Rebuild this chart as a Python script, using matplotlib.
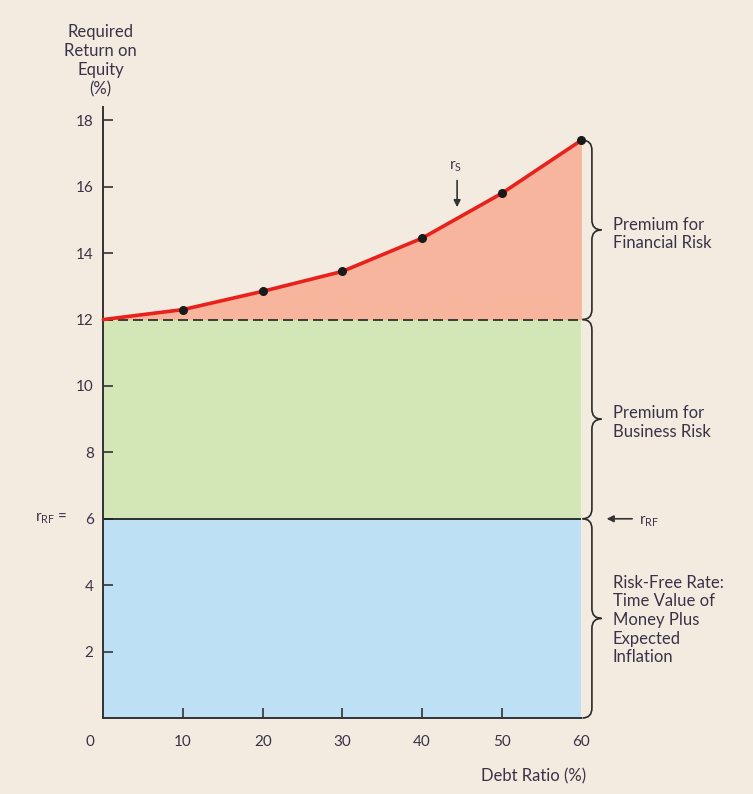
import numpy as np
import matplotlib.pyplot as plt
from matplotlib.path import Path
from matplotlib.patches import PathPatch
import matplotlib.transforms as mtransforms

plt.rcParams['font.family'] = ['Lato', 'DejaVu Sans']

debt_ratio = [0, 10, 20, 30, 40, 50, 60]
required_return = [12.0, 12.3, 12.85, 13.45, 14.45, 15.8, 17.4]
risk_free = 6
business_top = 12
x_ticks = [10, 20, 30, 40, 50]
y_ticks = [2, 4, 6, 8, 10, 12, 14, 16, 18]

bg = '#f3ebe0'
txt = '#3a3348'
fs = 11
lfs = 12

fig = plt.figure(figsize=(7.53, 7.94), dpi=100, facecolor=bg)
ax = fig.add_axes([0.1373, 0.0957, 0.6348, 0.7695], facecolor=bg)
ax.set_xlim(0, 60)
ax.set_ylim(0, 18.4)

x = np.array(debt_ratio)
y = np.array(required_return)
ax.fill_between(x, 0, risk_free, color='#bde0f5', lw=0)
ax.fill_between(x, risk_free, business_top, color='#d3e6b6', lw=0)
ax.fill_between(x, business_top, y, color='#f8b59d', lw=0)
ax.plot([0, 60], [business_top, business_top], color='#222222', lw=1.2, ls=(0, (6, 3)))
ax.plot([0, 60], [risk_free, risk_free], color='#222222', lw=1.3)
ax.plot(x, y, color='#e8211d', lw=2.6, solid_capstyle='round', zorder=3, clip_on=False)
ax.plot(x[1:], y[1:], 'o', color='#1a1a1a', ms=5.5, zorder=4, clip_on=False)

for s in ['top', 'right']:
    ax.spines[s].set_visible(False)
for s in ['left', 'bottom']:
    ax.spines[s].set_linewidth(1.4)
    ax.spines[s].set_color('#333333')

ax.set_xticks(x_ticks)
ax.set_xticklabels([str(v) for v in x_ticks])
ax.set_yticks(y_ticks)
ax.set_yticklabels([str(v) for v in y_ticks])
ax.tick_params(axis='both', direction='in', length=7, width=1.2, color='#333333',
               labelsize=fs, labelcolor=txt)
ax.tick_params(axis='x', pad=12)
ax.tick_params(axis='y', pad=7)
ax.text(-1.7, -0.72, '0', ha='center', va='center', fontsize=fs, color=txt)
ax.text(60, -0.72, '60', ha='center', va='center', fontsize=fs, color=txt)

ax.text(-4.5, risk_free, r'r$_{\mathregular{RF}}$ =', ha='right', va='center',
        fontsize=fs, color=txt)

ax.text(-0.35, 19.8, 'Required\nReturn on\nEquity\n(%)', ha='center', va='center',
        fontsize=lfs, color=txt, linespacing=1.25)
ax.text(60.6, -1.75, 'Debt Ratio (%)', ha='right', va='center', fontsize=lfs, color=txt)

# r_s arrow
ax.annotate('', xy=(44.4, 15.3), xytext=(44.4, 16.27),
            arrowprops=dict(arrowstyle='-|>', color='#333333', lw=1.2, mutation_scale=10))
ax.text(44.2, 16.6, r'r$_{\mathregular{S}}$', ha='center', va='center', fontsize=fs, color=txt)

# braces on the right
tr = mtransforms.blended_transform_factory(ax.transAxes, ax.transData)


def brace(y_top, y_bot):
    x0, xs, xt = 1.002, 1.022, 1.042
    r = 0.3
    ym = (y_top + y_bot) / 2
    verts = [(x0, y_top), (xs, y_top), (xs, y_top - r),
             (xs, ym + r), (xs, ym), (xt, ym),
             (xs, ym), (xs, ym - r),
             (xs, y_bot + r), (xs, y_bot), (x0, y_bot)]
    codes = [Path.MOVETO, Path.CURVE3, Path.CURVE3,
             Path.LINETO, Path.CURVE3, Path.CURVE3,
             Path.CURVE3, Path.CURVE3,
             Path.LINETO, Path.CURVE3, Path.CURVE3]
    p = PathPatch(Path(verts, codes), transform=tr, fill=False, ec='#2a2a2a',
                  lw=1.2, clip_on=False)
    ax.add_patch(p)


brace(required_return[-1], business_top)
brace(business_top, risk_free)
brace(risk_free, 0)

ax.text(1.066, 14.58, 'Premium for\nFinancial Risk', transform=tr, ha='left',
        va='center', fontsize=lfs, color=txt, linespacing=1.2)
ax.text(1.066, 8.9, 'Premium for\nBusiness Risk', transform=tr, ha='left',
        va='center', fontsize=lfs, color=txt, linespacing=1.2)
ax.text(1.066, 2.95, 'Risk-Free Rate:\nTime Value of\nMoney Plus\nExpected\nInflation',
        transform=tr, ha='left', va='center', fontsize=lfs, color=txt, linespacing=1.2)

ax.annotate('', xy=(1.047, risk_free), xytext=(1.112, risk_free), xycoords=tr, textcoords=tr,
            arrowprops=dict(arrowstyle='-|>', color='#333333', lw=1.2, mutation_scale=10))
ax.text(1.12, risk_free - 0.1, r'r$_{\mathregular{RF}}$', transform=tr, ha='left', va='center',
        fontsize=fs, color=txt)

fig.savefig('out.png', dpi=100, facecolor=bg)
